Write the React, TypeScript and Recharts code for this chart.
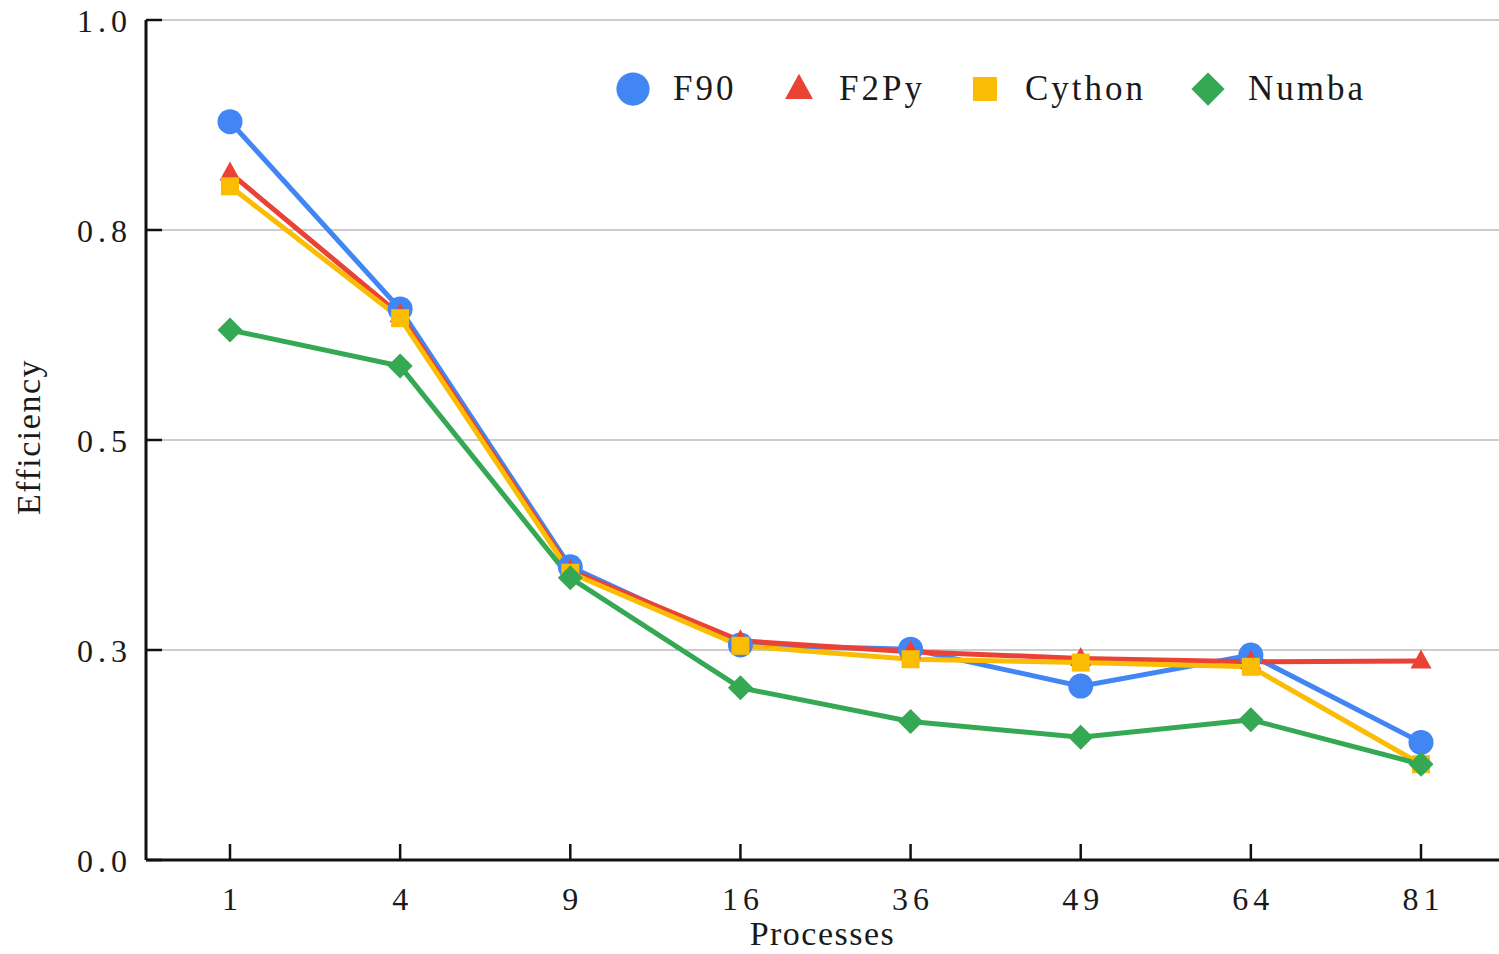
import React from 'react';
import { LineChart, Line, XAxis, YAxis, CartesianGrid, Legend } from 'recharts';

const processes = ['1', '4', '9', '16', '36', '49', '64', '81'];
const f90 = [0.879, 0.656, 0.349, 0.256, 0.251, 0.207, 0.244, 0.14];
const f2py = [0.818, 0.649, 0.345, 0.261, 0.248, 0.24, 0.236, 0.237];
const cython = [0.802, 0.645, 0.342, 0.255, 0.239, 0.235, 0.23, 0.114];
const numba = [0.631, 0.588, 0.336, 0.205, 0.165, 0.146, 0.167, 0.114];

const yTicks = [0, 0.25, 0.5, 0.75, 1];
const yTickLabels = ['0.0', '0.3', '0.5', '0.8', '1.0'];

const seriesNames = ['F90', 'F2Py', 'Cython', 'Numba'];
const seriesColors = ['#4285F4', '#EA4335', '#FBBC04', '#34A853'];
const seriesShapes = ['circle', 'triangle', 'square', 'diamond'];
const seriesValues = [f90, f2py, cython, numba];

const data = processes.map((p, i) => {
  const row: any = { p };
  seriesNames.forEach((n, k) => {
    row[n] = seriesValues[k][i];
  });
  return row;
});

const FONT = '"Liberation Serif", "Times New Roman", serif';
const TEXT = '#1a1a1a';

function shapeEl(shape: string, cx: number, cy: number, s: number, color: string, key?: any) {
  if (shape === 'circle') return <circle key={key} cx={cx} cy={cy} r={12.5 * s} fill={color} />;
  if (shape === 'triangle') {
    const w = 10.5 * s;
    const up = 11.5 * s;
    const dn = 7.5 * s;
    return (
      <polygon key={key} points={`${cx},${cy - up} ${cx - w},${cy + dn} ${cx + w},${cy + dn}`} fill={color} />
    );
  }
  if (shape === 'square') {
    const h = 9 * s;
    return <rect key={key} x={cx - h} y={cy - h} width={2 * h} height={2 * h} fill={color} />;
  }
  const d = 12.5 * s;
  return (
    <polygon key={key} points={`${cx},${cy - d} ${cx + d},${cy} ${cx},${cy + d} ${cx - d},${cy}`} fill={color} />
  );
}

const YTick = (props: any) => {
  const { x, y, payload } = props;
  const idx = yTicks.indexOf(payload.value);
  return (
    <text x={x} y={y} dy={12} textAnchor="end" fill={TEXT} fontFamily={FONT} fontSize={32} style={{ letterSpacing: 5 }}>
      {idx >= 0 ? yTickLabels[idx] : payload.value}
    </text>
  );
};

const XTick = (props: any) => {
  const { x, y, payload } = props;
  return (
    <text x={x + 2.5} y={y} dy={20} textAnchor="middle" fill={TEXT} fontFamily={FONT} fontSize={32} style={{ letterSpacing: 5 }}>
      {payload.value}
    </text>
  );
};

const XLabel = (props: any) => {
  const vb = props.viewBox;
  return (
    <text x={vb.x + vb.width / 2} y={vb.y + 85} textAnchor="middle" fill={TEXT} fontFamily={FONT} fontSize={34} style={{ letterSpacing: 1.5 }}>
      Processes
    </text>
  );
};

const YLabel = (props: any) => {
  const vb = props.viewBox;
  const cx = vb.x + 40;
  const cy = vb.y + vb.height / 2 - 3;
  return (
    <text x={cx} y={cy} transform={`rotate(-90 ${cx} ${cy})`} textAnchor="middle" fill={TEXT} fontFamily={FONT} fontSize={34} style={{ letterSpacing: 1.5 }}>
      Efficiency
    </text>
  );
};

const itemWidths = [166, 186, 223, 180];

const LegendContent = () => (
  <div style={{ display: 'flex', alignItems: 'center', fontFamily: FONT, fontSize: 35, color: TEXT, lineHeight: 1 }}>
    {seriesNames.map((n, k) => (
      <div key={n} style={{ display: 'flex', alignItems: 'center', width: itemWidths[k] }}>
        <svg width={34} height={34} style={{ display: 'block' }}>
          {shapeEl(seriesShapes[k], 17, 17, 1.33, seriesColors[k])}
        </svg>
        <span style={{ marginLeft: 23, letterSpacing: 3 }}>{n}</span>
      </div>
    ))}
  </div>
);

export default function App() {
  return (
    <div style={{ position: 'absolute', left: 0, top: 0, width: 1499, height: 954, background: '#fff' }}>
      <LineChart width={1499} height={954} data={data} margin={{ top: 20, right: 0, left: 0, bottom: 0 }}>
        <CartesianGrid vertical={false} stroke="#cccccc" strokeWidth={2} />
        <XAxis
          dataKey="p"
          interval={0}
          height={94}
          padding={{ left: 84, right: 78 }}
          axisLine={{ stroke: '#111', strokeWidth: 3 }}
          tickLine={{ stroke: '#111', strokeWidth: 2.5 }}
          tickSize={-16}
          tickMargin={46}
          tick={<XTick />}
          label={<XLabel />}
        />
        <YAxis
          domain={[0, 1]}
          ticks={yTicks}
          interval={0}
          width={146}
          axisLine={{ stroke: '#111', strokeWidth: 3 }}
          tickLine={{ stroke: '#111', strokeWidth: 2.5 }}
          tickSize={-16}
          tickMargin={30}
          tick={<YTick />}
          label={<YLabel />}
        />
        <Legend
          layout="horizontal"
          verticalAlign="middle"
          align="center"
          wrapperStyle={{ top: 71, left: 616, width: 'auto' }}
          content={<LegendContent />}
        />
        {seriesNames.map((n, k) => (
          <Line
            key={n}
            dataKey={n}
            name={n}
            type="linear"
            stroke={seriesColors[k]}
            strokeWidth={5}
            isAnimationActive={false}
            dot={(p: any) => shapeEl(seriesShapes[k], p.cx, p.cy, 1, seriesColors[k], `${n}-${p.index}`)}
            activeDot={false}
          />
        ))}
      </LineChart>
    </div>
  );
}
